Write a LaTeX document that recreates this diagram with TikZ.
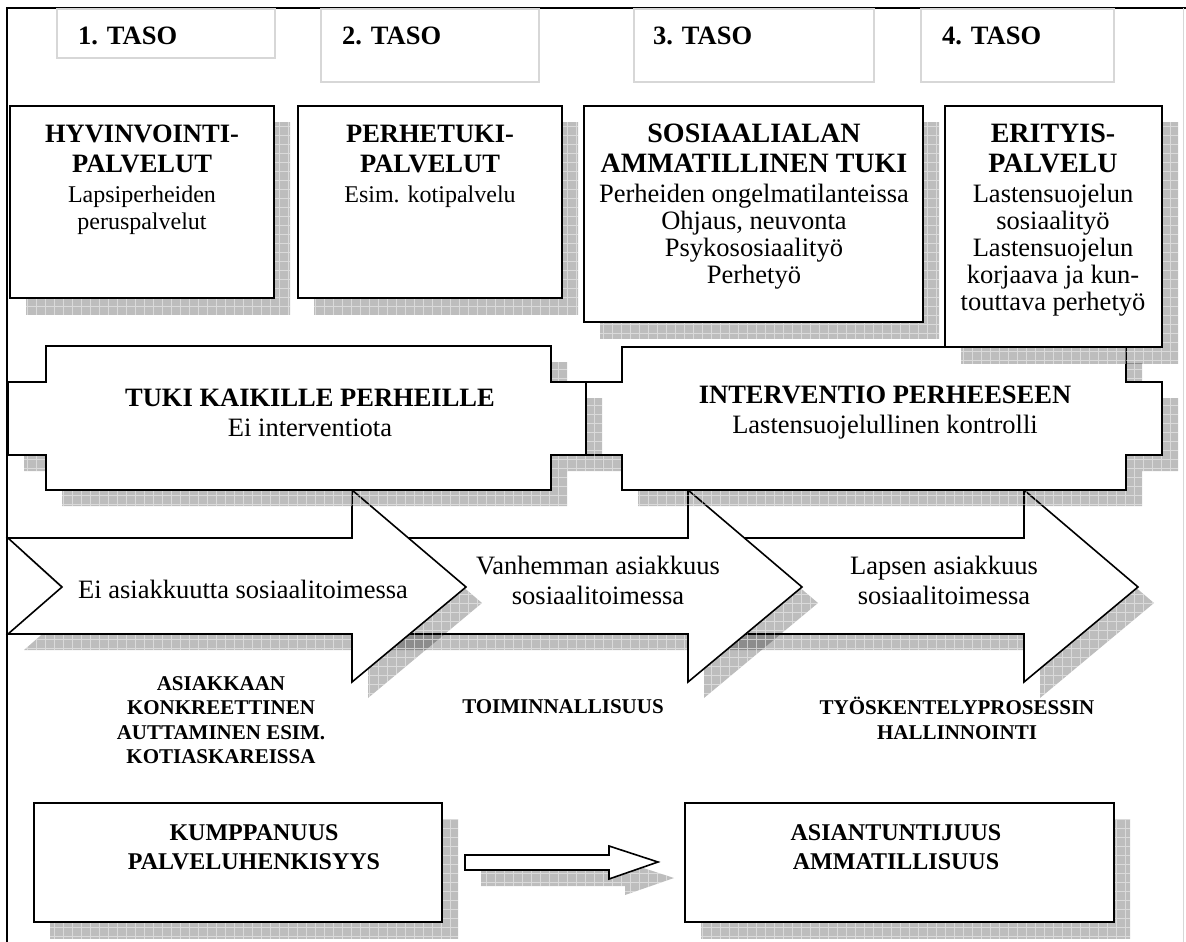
\documentclass[tikz,border=0pt]{standalone}
\usepackage{fontspec}
\setmainfont{Liberation Serif}
\definecolor{tasoline}{RGB}{215,215,215}
\newcommand\dropshadow[1]{%
  \begin{scope}
    \clip[shift={(16,16)}] #1;
    \fill[shadowfill] (0,0) rectangle (1186,942);
    \draw[shadowgrid] (0,0) grid (1186,942);
  \end{scope}}
\newcommand\boxhead[2][26.5]{{\fontsize{#1}{30}\selectfont\bfseries #2}}
\begin{document}
\begin{tikzpicture}[x=1pt,y=-1pt]

    \tikzset{
      shadowfill/.style={fill=black,fill opacity=0.26},
      shadowgrid/.style={draw=white,draw opacity=0.45,line width=0.6pt,step=9pt},
      frameline/.style={draw=black,line width=1.5pt},
      tasobox/.style={draw=tasoline,line width=1.5pt},
      tasolabel/.style={anchor=base west,inner sep=0pt,font=\fontsize{26.5}{30}\selectfont\bfseries},
      shapeline/.style={draw=black,fill=white,line width=1.6pt,line join=miter},
      boxtext/.style={anchor=north,align=center,inner sep=0pt,font=\fontsize{24}{27}\selectfont},
      widetext/.style={boxtext,font=\fontsize{26.5}{27}\selectfont},
      plaquetext/.style={align=center,inner sep=0pt,font=\fontsize{26.5}{30}\selectfont},
      arrowtext/.style={align=center,inner sep=0pt,font=\fontsize{26.5}{30}\selectfont},
      skilltext/.style={align=center,inner sep=0pt,font=\fontsize{21}{24.5}\selectfont\bfseries},
      lowtext/.style={anchor=north,align=center,inner sep=0pt,font=\fontsize{24}{29}\selectfont\bfseries},
    }
    \useasboundingbox (0,0) rectangle (1186,942);
    \fill[white] (0,0) rectangle (1186,942);

	\draw[frameline] (7,942)--(7,8)--(1186,8);
	\draw[tasoline,line width=1pt] (1183,8)--(1183,942);

	\draw[tasobox] (57,9) rectangle (275,58);
	\draw[tasobox] (321,9) rectangle (539,82);
	\draw[tasobox] (634,9) rectangle (874,82);
	\draw[tasobox] (921,9) rectangle (1114,82);
	\node[tasolabel] (taso1) at (78,45) {1. TASO};
	\node[tasolabel] (taso2) at (342,45) {2. TASO};
	\node[tasolabel] (taso3) at (653,45) {3. TASO};
	\node[tasolabel] (taso4) at (942,45) {4. TASO};

	\dropshadow{(680,538)--(1024,538)--(1024,490)--(1138,587)--(1024,682)--(1024,634)--(680,634)--(734,587)--cycle}
	\draw[shapeline] (680,538)--(1024,538)--(1024,490)--(1138,587)--(1024,682)--(1024,634)--(680,634)--(734,587)--cycle;
	\dropshadow{(344,538)--(688,538)--(688,490)--(802,587)--(688,682)--(688,634)--(344,634)--(398,587)--cycle}
	\draw[shapeline] (344,538)--(688,538)--(688,490)--(802,587)--(688,682)--(688,634)--(344,634)--(398,587)--cycle;
	\dropshadow{(8,538)--(352,538)--(352,490)--(466,587)--(352,682)--(352,634)--(8,634)--(62,587)--cycle}
	\draw[shapeline] (8,538)--(352,538)--(352,490)--(466,587)--(352,682)--(352,634)--(8,634)--(62,587)--cycle;

	\dropshadow{(622,347)--(1126,347)--(1126,382)--(1162,382)--(1162,455)--(1126,455)--(1126,490)--(622,490)--(622,455)--(586,455)--(586,382)--(622,382)--cycle}
	\draw[shapeline] (622,347)--(1126,347)--(1126,382)--(1162,382)--(1162,455)--(1126,455)--(1126,490)--(622,490)--(622,455)--(586,455)--(586,382)--(622,382)--cycle;
	\dropshadow{(46,346)--(551,346)--(551,382)--(586,382)--(586,455)--(551,455)--(551,490)--(46,490)--(46,455)--(8,455)--(8,382)--(46,382)--cycle}
	\draw[shapeline] (46,346)--(551,346)--(551,382)--(586,382)--(586,455)--(551,455)--(551,490)--(46,490)--(46,455)--(8,455)--(8,382)--(46,382)--cycle;

	\dropshadow{(10,106) rectangle (274,298)}
	\draw[shapeline] (10,106) rectangle (274,298);
	\dropshadow{(298,106) rectangle (562,298)}
	\draw[shapeline] (298,106) rectangle (562,298);
	\dropshadow{(584,106) rectangle (923,322)}
	\draw[shapeline] (584,106) rectangle (923,322);
	\dropshadow{(945,106) rectangle (1162,347)}
	\draw[shapeline] (945,106) rectangle (1162,347);

	\node[boxtext] (hyvin) at (142,125) {\boxhead{HYVINVOINTI-}\\[3pt]\boxhead{PALVELUT}\\[3pt]Lapsiperheiden\\peruspalvelut};
	\node[boxtext] (perhe) at (430,125) {\boxhead{PERHETUKI-}\\[3pt]\boxhead{PALVELUT}\\[3pt]Esim. kotipalvelu};
	\node[widetext] (sosiaali) at (754,124) {\boxhead[28]{SOSIAALIALAN}\\[3pt]\boxhead[28]{AMMATILLINEN TUKI}\\[3pt]Perheiden ongelmatilanteissa\\Ohjaus, neuvonta\\Psykososiaalityö\\Perhetyö};
	\node[widetext] (erityis) at (1053,124) {\boxhead[28]{ERITYIS-}\\[3pt]\boxhead[28]{PALVELU}\\[3pt]Lastensuojelun\\sosiaalityö\\Lastensuojelun\\korjaava ja kun-\\touttava perhetyö};

	\node[plaquetext] (tuki) at (310,413) {\textbf{TUKI KAIKILLE PERHEILLE}\\Ei interventiota};
	\node[plaquetext] (interv) at (885,413) {\textbf{INTERVENTIO PERHEESEEN}\\Lastensuojelullinen kontrolli};

	\node[arrowtext,anchor=base] (eiasiak) at (243,598) {Ei asiakkuutta sosiaalitoimessa};
	\node[arrowtext] (vanhem) at (598,580) {Vanhemman asiakkuus\\sosiaalitoimessa};
	\node[arrowtext] (lapsen) at (944,580) {Lapsen asiakkuus\\sosiaalitoimessa};

	\node[skilltext,anchor=north] (konkr) at (221,676) {ASIAKKAAN\\KONKREETTINEN\\AUTTAMINEN ESIM.\\KOTIASKAREISSA};
	\node[skilltext,anchor=base] (toimin) at (563,713) {TOIMINNALLISUUS};
	\node[skilltext,anchor=north] (tyosk) at (957,697) {TYÖSKENTELYPROSESSIN\\HALLINNOINTI};

	\dropshadow{(34,803) rectangle (442,922)}
	\draw[shapeline] (34,803) rectangle (442,922);
	\dropshadow{(685,803) rectangle (1114,922)}
	\draw[shapeline] (685,803) rectangle (1114,922);
	\dropshadow{(465,855)--(609,855)--(609,846)--(658,862)--(609,879)--(609,870)--(465,870)--cycle}
	\draw[shapeline] (465,855)--(609,855)--(609,846)--(658,862)--(609,879)--(609,870)--(465,870)--cycle;

	\node[lowtext] (kump) at (254,824) {KUMPPANUUS\\PALVELUHENKISYYS};
	\node[lowtext] (asiant) at (896,824) {ASIANTUNTIJUUS\\AMMATILLISUUS};

\end{tikzpicture}
\end{document}
